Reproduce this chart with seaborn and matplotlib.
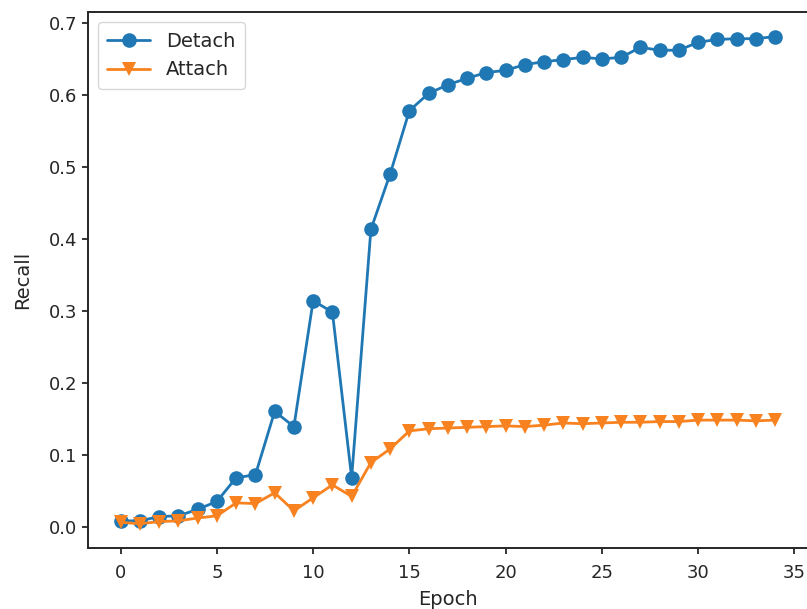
import pandas as pd
import matplotlib.pyplot as plt
import seaborn as sns

sns.set_theme(style="ticks")
plt.rcParams['font.family'] = ['DejaVu Sans']

epochs = list(range(35))
detach = [0.008, 0.008, 0.014, 0.015, 0.024, 0.035, 0.068, 0.072, 0.160, 0.139,
          0.314, 0.298, 0.068, 0.413, 0.490, 0.578, 0.602, 0.614, 0.623, 0.631,
          0.634, 0.642, 0.646, 0.649, 0.652, 0.650, 0.652, 0.666, 0.662, 0.662,
          0.673, 0.677, 0.678, 0.678, 0.681]
attach = [0.006, 0.004, 0.007, 0.008, 0.012, 0.015, 0.033, 0.032, 0.047, 0.022,
          0.040, 0.058, 0.042, 0.089, 0.108, 0.133, 0.136, 0.137, 0.138, 0.139,
          0.140, 0.139, 0.141, 0.144, 0.143, 0.144, 0.145, 0.145, 0.146, 0.146,
          0.148, 0.148, 0.148, 0.147, 0.148]
series_names = ["Detach", "Attach"]

df = pd.concat([
    pd.DataFrame({"Epoch": epochs, "Recall": detach, "method": series_names[0]}),
    pd.DataFrame({"Epoch": epochs, "Recall": attach, "method": series_names[1]}),
])

fig = plt.figure(figsize=(8.07, 6.09), dpi=100)
ax = fig.add_axes([0.109, 0.100, 0.892, 0.880])

sns.lineplot(data=df, x="Epoch", y="Recall", hue="method", style="method",
             markers=["o", "v"], dashes=False, palette=["#1f77b4", "#f8821f"],
             linewidth=2.0, markersize=10.5, markeredgewidth=0, ax=ax)

sns.move_legend(ax, "upper left", title=None, fontsize=14, frameon=True,
                borderpad=0.5, handlelength=2.2)
ax.set_xlabel("Epoch", fontsize=14, labelpad=6)
ax.set_ylabel("Recall", fontsize=14, labelpad=12)
ax.tick_params(labelsize=13, length=4.3, width=1.3)
ax.tick_params(axis="x", pad=7)
for s in ax.spines.values():
    s.set_linewidth(1.4)

plt.savefig("out.png", dpi=100)
